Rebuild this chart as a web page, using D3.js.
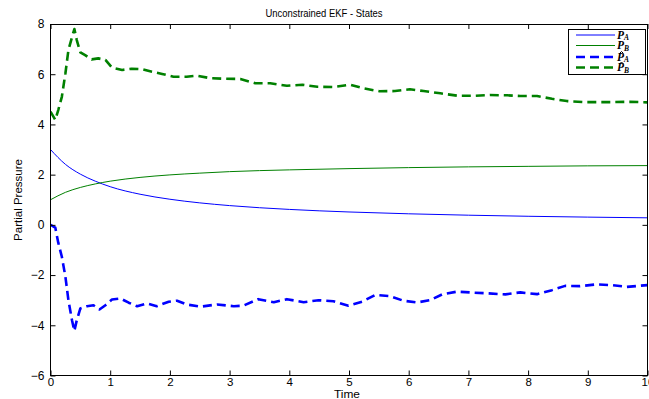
<!DOCTYPE html>
<html><head><meta charset="utf-8">
<script src="https://cdn.jsdelivr.net/npm/d3@7"></script>
<style>
html,body{margin:0;padding:0;background:#fff;}
svg{display:block;}
text{font-family:"Liberation Sans",Arial,sans-serif;}
</style></head>
<body><div id="chart"></div>
<script>
// ---- data ----
const titleText = "Unconstrained EKF - States";
const xLabel = "Time";
const yLabel = "Partial Pressure";
const xTicks = [0,1,2,3,4,5,6,7,8,9,10];
const yTicks = [-6,-4,-2,0,2,4,6,8];

// true states
const tTrue = [0,0.25,0.5,0.75,1,1.5,2,2.5,3,4,5,6,7,8,9,10];
const pA = [3.00,2.41,2.02,1.74,1.52,1.22,1.02,0.876,0.767,0.615,0.513,0.44,0.385,0.342,0.308,0.28];
const pB = [1.00,1.295,1.49,1.63,1.74,1.89,1.99,2.06,2.12,2.19,2.24,2.28,2.31,2.33,2.35,2.36];

// estimated states
const tEstA = [0,0.08,0.13,0.19,0.25,0.30,0.36,0.40,0.44,0.50,0.61,0.72,0.82,0.92,1.03,1.17,1.31,1.45,1.61,1.78,1.98,2.12,2.28,2.51,2.79,3.07,3.23,3.48,3.74,3.96,4.24,4.49,4.74,4.99,5.22,5.44,5.69,5.91,6.14,6.36,6.56,6.81,7.09,7.34,7.62,7.87,8.15,8.40,8.62,8.87,9.15,9.40,9.65,10];
const pAhat = [0.0,-0.11,-0.71,-1.27,-2.07,-3.0,-3.80,-4.22,-3.80,-3.33,-3.24,-3.20,-3.37,-3.20,-2.97,-2.93,-3.10,-3.24,-3.13,-3.24,-3.06,-3.02,-3.17,-3.26,-3.17,-3.24,-3.22,-2.96,-3.08,-2.96,-3.08,-3.00,-3.04,-3.22,-3.06,-2.79,-2.84,-3.02,-3.09,-3.00,-2.77,-2.66,-2.70,-2.73,-2.77,-2.69,-2.76,-2.60,-2.43,-2.44,-2.37,-2.40,-2.47,-2.40];
const tEstB = [0,0.08,0.13,0.19,0.25,0.30,0.37,0.40,0.44,0.50,0.58,0.69,0.80,0.92,1.03,1.20,1.36,1.53,1.70,1.87,2.06,2.28,2.45,2.68,2.93,3.18,3.43,3.68,3.96,4.22,4.47,4.74,5.02,5.24,5.51,5.77,6.02,6.25,6.53,6.83,7.11,7.36,7.65,7.87,8.15,8.40,8.65,8.93,9.21,9.43,9.71,10];
const pBhat = [4.51,4.18,4.57,5.10,6.04,6.96,7.56,7.80,7.36,6.87,6.76,6.59,6.63,6.57,6.26,6.17,6.22,6.20,6.10,6.01,5.90,5.90,5.94,5.84,5.82,5.81,5.64,5.64,5.54,5.58,5.50,5.49,5.58,5.44,5.32,5.33,5.40,5.33,5.24,5.14,5.14,5.17,5.16,5.13,5.13,5.02,4.93,4.89,4.89,4.89,4.90,4.88];

const legendNames = [{base:"P",hat:false,sub:"A"},{base:"P",hat:false,sub:"B"},{base:"P",hat:true,sub:"A"},{base:"P",hat:true,sub:"B"}];
const seriesColors = ["#0000ff","#008000","#0000ff","#008000"];
const seriesDashed = [false,false,true,true];

// ---- drawing ----
const W = 649, H = 399;
const L = 50.5, R = 647.5, T = 24, B = 375.5;
const svg = d3.select("#chart").append("svg").attr("width",W).attr("height",H);
const x = d3.scaleLinear().domain([0,10]).range([L,R]);
const y = d3.scaleLinear().domain([-6,8]).range([B,T]);

svg.append("clipPath").attr("id","clip").append("rect")
  .attr("x",L).attr("y",T).attr("width",R-L).attr("height",B-T);

const line = d3.line().x(d=>x(d[0])).y(d=>y(d[1]));
const series = [
  d3.zip(tTrue,pA), d3.zip(tTrue,pB), d3.zip(tEstA,pAhat), d3.zip(tEstB,pBhat)
];
const curves = [d3.curveMonotoneX,d3.curveMonotoneX,d3.curveLinear,d3.curveLinear];
const g = svg.append("g").attr("clip-path","url(#clip)");
series.forEach((s,i)=>{
  g.append("path").datum(s)
    .attr("d", line.curve(curves[i]))
    .attr("fill","none")
    .attr("stroke",seriesColors[i])
    .attr("stroke-width", seriesDashed[i]?2.6:1)
    .attr("stroke-dasharray", seriesDashed[i]?"9,5":null)
    .attr("stroke-linejoin","round");
});

// axes
function styleAxis(sel){
  sel.select(".domain").remove();
  sel.selectAll("line").attr("stroke","#000");
  sel.selectAll("text").attr("font-size",12).attr("fill","#000")
    .attr("font-family","'Liberation Sans',Arial,sans-serif");
}
svg.append("g").attr("transform",`translate(0,${B})`)
  .call(d3.axisBottom(x).tickValues(xTicks).tickSize(-5).tickPadding(2).tickFormat(d3.format("d")))
  .call(styleAxis)
  .call(s=>s.selectAll("text").attr("font-size",11.5));
svg.append("g").attr("transform",`translate(0,${T})`)
  .call(d3.axisTop(x).tickValues(xTicks).tickSize(-5).tickFormat(""))
  .call(styleAxis);
svg.append("g").attr("transform",`translate(${L},0)`)
  .call(d3.axisLeft(y).tickValues(yTicks).tickSize(-5).tickPadding(6).tickFormat(d3.format("d")))
  .call(styleAxis);
svg.append("g").attr("transform",`translate(${R},0)`)
  .call(d3.axisRight(y).tickValues(yTicks).tickSize(-5).tickFormat(""))
  .call(styleAxis);

svg.append("rect").attr("x",L).attr("y",T+0.5).attr("width",R-L).attr("height",B-T-0.5)
  .attr("fill","none").attr("stroke","#000").attr("stroke-width",1);

// labels
svg.append("text").attr("x",324).attr("y",17).attr("text-anchor","middle")
  .attr("font-size",11).attr("textLength",117).attr("lengthAdjust","spacingAndGlyphs")
  .style("font-family","'Liberation Sans Narrow','Liberation Sans',Arial,sans-serif")
  .text(titleText);
svg.append("text").attr("x",347).attr("y",398).attr("text-anchor","middle")
  .attr("font-size",10.5).attr("textLength",26).attr("lengthAdjust","spacingAndGlyphs")
  .text(xLabel);
svg.append("text").attr("transform","translate(22,200) rotate(-90)").attr("text-anchor","middle")
  .attr("font-size",11.5).text(yLabel);

// legend
const lg = svg.append("g");
lg.append("rect").attr("x",568.5).attr("y",29.5).attr("width",77).attr("height",45)
  .attr("fill","#fff").attr("stroke","#000").attr("stroke-width",1);
const rowY = [35,45.5,57,67.5];
legendNames.forEach((n,i)=>{
  lg.append("line").attr("x1",576).attr("x2",615).attr("y1",rowY[i]).attr("y2",rowY[i])
    .attr("stroke",seriesColors[i]).attr("stroke-width",seriesDashed[i]?2.6:1)
    .attr("stroke-dasharray",seriesDashed[i]?"9,5":null);
  const t = lg.append("text").attr("x",617).attr("y",rowY[i]+3.5)
    .style("font-family","'Liberation Serif','Times New Roman',serif")
    .attr("font-style","italic").attr("font-weight","bold").attr("font-size",11.5);
  t.append("tspan").text(n.base);
  t.append("tspan").attr("font-size",7.5).attr("dy",1.5).text(n.sub);
  if(n.hat){
    lg.append("path")
      .attr("d",`M${619.5},${rowY[i]-3.5} L${621.5},${rowY[i]-5.5} L${623.5},${rowY[i]-3.5}`)
      .attr("fill","none").attr("stroke","#000").attr("stroke-width",1);
  }
});
</script>
</body></html>
